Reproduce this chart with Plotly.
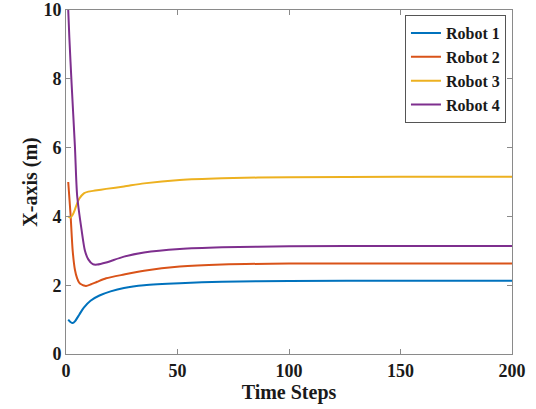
import plotly.graph_objects as go

# ---- data ----
t1 = [1, 2, 3, 4, 6, 8, 11, 15, 20, 26, 35, 51, 70, 100, 150, 200]
robot1 = [1.0, 0.93, 0.90, 0.95, 1.15, 1.35, 1.55, 1.70, 1.82, 1.92, 2.00, 2.06, 2.10, 2.12, 2.13, 2.13]

t2 = [1, 2, 3, 4, 5, 6, 7, 8, 9, 11, 14, 18, 26, 35, 51, 70, 100, 150, 200]
robot2 = [5.0, 4.1, 3.0, 2.45, 2.2, 2.07, 2.02, 1.99, 1.98, 2.02, 2.10, 2.20, 2.31, 2.42, 2.54, 2.60, 2.63, 2.63, 2.63]

t3 = [1, 2, 3, 4, 5, 6, 8, 10, 13, 18, 26, 35, 51, 70, 100, 150, 200]
robot3 = [4.0, 3.97, 4.05, 4.2, 4.38, 4.52, 4.67, 4.72, 4.75, 4.80, 4.87, 4.96, 5.06, 5.11, 5.14, 5.15, 5.15]

t4 = [1, 1.5, 2.5, 4, 5, 7, 8.5, 10, 12, 14, 18, 26, 35, 51, 70, 100, 150, 200]
robot4 = [10, 9.2, 7.87, 6.03, 4.6, 3.6, 3.0, 2.75, 2.61, 2.60, 2.66, 2.83, 2.95, 3.05, 3.10, 3.13, 3.14, 3.14]

names = ["Robot 1", "Robot 2", "Robot 3", "Robot 4"]
colors = ["#0072BD", "#D95319", "#EDB120", "#7E2F8E"]
series = [(t1, robot1), (t2, robot2), (t3, robot3), (t4, robot4)]

x_ticks = [0, 50, 100, 150, 200]
y_ticks = [0, 2, 4, 6, 8, 10]

fig = go.Figure()
for (tx, ty), n, c in zip(series, names, colors):
    fig.add_trace(go.Scatter(x=tx, y=ty, mode="lines", name=n,
                             line=dict(color=c, width=2, shape="spline", smoothing=0.7)))

serif = "Liberation Serif"
axis_common = dict(
    showline=True, linecolor="#8a8a8a", linewidth=1, mirror="allticks",
    ticks="inside", ticklen=5, tickcolor="#8a8a8a", showgrid=False, zeroline=False,
    automargin=False, ticklabeloverflow="allow",
    tickfont=dict(family=serif, size=18, color="#1a1a1a", weight="bold"),
)
fig.update_xaxes(range=[0, 200], tickvals=x_ticks,
                 title=dict(text="Time Steps", font=dict(family=serif, size=20, color="#1a1a1a", weight="bold"), standoff=2),
                 **axis_common)
fig.update_yaxes(range=[0, 10], tickvals=y_ticks,
                 title=dict(text="X-axis (m)", font=dict(family=serif, size=20, color="#1a1a1a", weight="bold"), standoff=0),
                 **axis_common)

fig.update_layout(
    width=536, height=409,
    margin=dict(l=66, r=24, t=10, b=55, autoexpand=False),
    plot_bgcolor="white", paper_bgcolor="white",
    legend=dict(x=0.76, y=0.985, xanchor="left", yanchor="top",
                bordercolor="#555555", borderwidth=1, bgcolor="white",
                font=dict(family=serif, size=16, color="#1a1a1a", weight="bold"),
                tracegroupgap=0, itemwidth=30),
)
fig.write_html("out.html", config={"displayModeBar": False},
               post_script="document.body.style.margin='0';")
